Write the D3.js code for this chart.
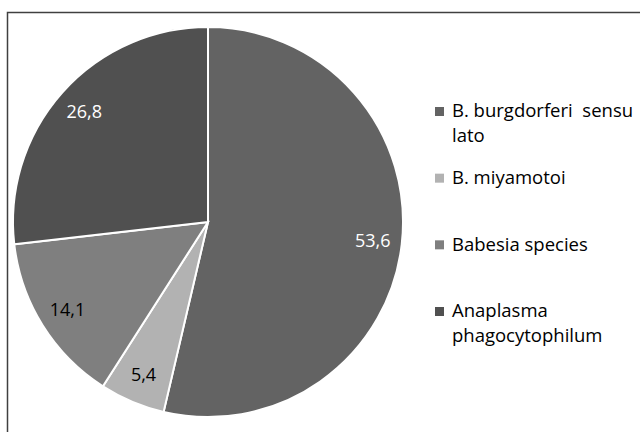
<!doctype html>
<html>
<head>
    <script src="https://d3js.org/d3.v7.min.js"></script>
    <style>
        body { margin: 0; background: #fff; }
        text { font-family: "Open Sans", Lato, sans-serif; }
    </style>
</head>
<body>
    <script>
        var width = 640;
        var height = 432;

        var categories = ["B. burgdorferi  sensu lato", "B. miyamotoi", "Babesia species", "Anaplasma phagocytophilum"];
        var values = [53.6, 5.4, 14.1, 26.8];
        var labels = ["53,6", "5,4", "14,1", "26,8"];
        var legendLines = [["B. burgdorferi  sensu", "lato"], ["B. miyamotoi"], ["Babesia species"], ["Anaplasma", "phagocytophilum"]];
        var colors = ["#636363", "#b2b2b2", "#7f7f7f", "#505050"];
        var labelColors = ["#ffffff", "#000000", "#000000", "#ffffff"];

        var cx = 208, cy = 222, r = 195;

        var svg = d3.select("body")
                    .append("svg")
                    .attr("width", width)
                    .attr("height", height);

        // frame (left and top edges only)
        svg.append("path")
           .attr("d", "M7.5," + height + "V12.5H" + width)
           .attr("fill", "none")
           .attr("stroke", "#404040")
           .attr("stroke-width", 1.5);

        var pie = d3.pie().sort(null).value(function(d){ return d; });
        var arc = d3.arc().innerRadius(0).outerRadius(r);
        var labelArc = d3.arc().innerRadius(r * 0.85).outerRadius(r * 0.85);

        var g = svg.append("g").attr("transform", "translate(" + cx + "," + cy + ")");

        var slices = pie(values);

        g.selectAll("path")
         .data(slices)
         .enter()
         .append("path")
         .attr("d", arc)
         .attr("fill", function(d, i){ return colors[i]; })
         .attr("stroke", "#ffffff")
         .attr("stroke-width", 2);

        g.selectAll("text")
         .data(slices)
         .enter()
         .append("text")
         .attr("transform", function(d){ return "translate(" + labelArc.centroid(d) + ")"; })
         .attr("text-anchor", "middle")
         .attr("dy", "0.35em")
         .style("font-size", "18px")
         .style("fill", function(d, i){ return labelColors[i]; })
         .text(function(d, i){ return labels[i]; });

        // legend
        var legendY = d3.scalePoint()
                        .domain(categories)
                        .range([111, 311]);

        var legend = svg.selectAll(".legend")
                        .data(categories)
                        .enter()
                        .append("g")
                        .attr("class", "legend")
                        .attr("transform", function(d){ return "translate(435," + legendY(d) + ")"; });

        legend.append("rect")
              .attr("x", 0)
              .attr("y", -4)
              .attr("width", 9)
              .attr("height", 9)
              .attr("fill", function(d, i){ return colors[i]; });

        legend.append("text")
              .style("font-size", "18.5px")
              .style("fill", "#000")
              .selectAll("tspan")
              .data(function(d, i){ return legendLines[i]; })
              .enter()
              .append("tspan")
              .attr("x", 17)
              .attr("dy", function(d, j){ return j === 0 ? "0.35em" : "1.35em"; })
              .style("white-space", "pre")
              .text(function(d){ return d; });
    </script>
</body>
</html>
